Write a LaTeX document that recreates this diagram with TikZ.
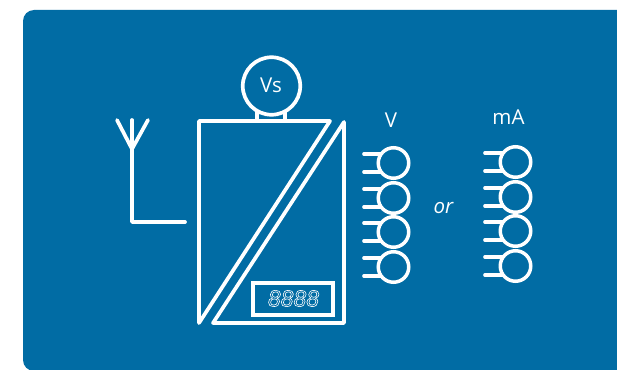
\documentclass[tikz,border=0pt]{standalone}
\usepackage{fontspec}
\setmainfont{Open Sans}
\newfontfamily\digitfont{Liberation Sans}[ItalicFont={Liberation Sans Italic}]
\definecolor{panelblue}{HTML}{016CA4}
\tikzset{
  wire/.style={draw=white,line width=3.7pt,line join=round,line cap=round},
  thinwire/.style={draw=white,line width=3.3pt,line join=round,line cap=round},
  label/.style={text=white,font=\fontsize{20.5}{20.5}\selectfont,inner sep=0pt},
  terminalring/.style={circle,draw=white,line width=3.5pt,minimum size=30.5pt,inner sep=0pt,fill=panelblue},
  dial/.style={circle,draw=white,line width=3.7pt,minimum size=57.5pt,inner sep=0pt,fill=panelblue}
}
\begin{document}
\begin{tikzpicture}[x=1pt,y=-1pt]
\useasboundingbox (0,0) rectangle (617,369);
\fill[white] (0,0) rectangle (617,369);
\fill[panelblue,rounded corners=11pt] (23,10) rectangle (660,371);
% antenna
\coordinate (atop) at (132,120);
\coordinate (afork) at (132,149);
\coordinate (acorner) at (132,222);
\coordinate (aend) at (185,222);
\coordinate (aleft) at (117,120);
\coordinate (aright) at (148,120);
\draw[wire] (atop) -- (acorner) -- (aend);
\draw[wire] (aleft) -- (afork) -- (aright);
% body
\draw[wire] (199,121) -- (330,121) -- (199,323) -- cycle;
\draw[wire] (344,122) -- (344,323) -- (213,323) -- cycle;
% neck and dial
\draw[thinwire] (257,112) -- (257,120) (285,112) -- (285,120);
\node[dial] (vs) at (271.5,86) {};
\node[label] at (271,85) {Vs};
% display
\draw[thinwire,line join=miter] (253,283) rectangle (333,315);
\node[text=white,inner sep=0pt,font=\digitfont\itshape\fontsize{23}{23}\selectfont] (digits) at (293.5,298.5) {\special{pdf:code q 1 Tr 0.6 w 1 1 1 RG}8888\special{pdf:code Q}};
% labels
\node[label] at (391,120) {V};
\node[label] at (508.5,117) {mA};
\node[label,font=\itshape\fontsize{20.5}{20.5}\selectfont] at (443.5,208) {or};
% terminals
\foreach \cx/\tx/\ys/\nm in {393.5/364/{163,198,232,267}/v,515.5/485/{162,197,231,266}/m}{
  \foreach \cy in \ys {
    \draw[wire] (\tx,\cy-9) -- (\cx-10,\cy-9);
    \draw[wire] (\tx,\cy+9) -- (\cx-10,\cy+9);
  }
  \foreach \cy in \ys {
    \node[terminalring] (r\nm\cy) at (\cx,\cy) {};
  }
}
\end{tikzpicture}
\end{document}
